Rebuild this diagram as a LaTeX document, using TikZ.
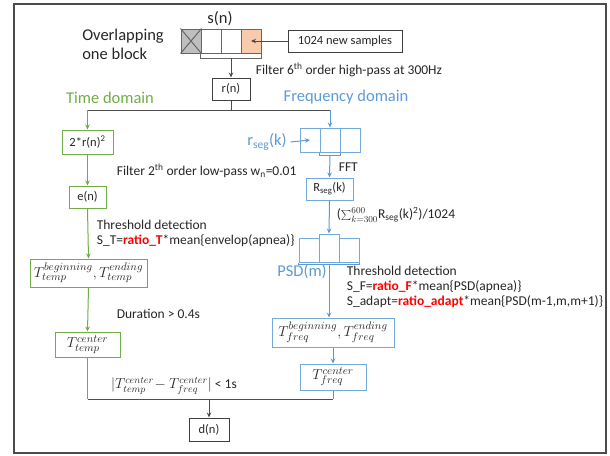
\documentclass[tikz,border=0pt]{standalone}
\usepackage{fontspec}
\setmainfont{Carlito}
\usetikzlibrary{arrows.meta}
\definecolor{tgreen}{RGB}{112,173,71}
\definecolor{fblue}{RGB}{91,155,213}
\definecolor{sorange}{RGB}{248,203,173}
\definecolor{txt}{RGB}{38,38,38}
\newcommand\redbf[1]{\textcolor{red}{\textbf{#1}}}
\begin{document}
\begin{tikzpicture}[x=1pt, y=-1pt, >={Stealth[length=5pt,width=4.5pt]}, line width=1pt,
  bigtxt/.style={font=\fontsize{16.5}{19}\selectfont},
  note/.style={text=txt, font=\fontsize{13.5}{15}\selectfont, anchor=west, align=left},
  box/.style={draw=black!75, text=txt, font=\fontsize{12.5}{14}\selectfont, inner sep=0pt, minimum height=22pt},
  mathbox/.style={font=\fontsize{15}{17}\selectfont},
  tbox/.style={box, draw=tgreen},
  fbox/.style={box, draw=fblue!85},
  cell/.style={draw=gray!80!black, minimum width=20pt, minimum height=24pt, inner sep=0pt},
  fcell/.style={cell, draw=fblue!85},
  gline/.style={draw=black!70},
  tline/.style={draw=tgreen},
  fline/.style={draw=fblue}]
  \useasboundingbox (0,0) rectangle (610,455);
  \draw[gray!60!black, line width=2pt] (14,4) rectangle (606,453);

  % input block
  \node[bigtxt, align=left, text=txt] (ovl) at (123,44) {Overlapping\\one block};
  \node[bigtxt, text=txt] (sn) at (220,19) {s(n)};
  \node[cell, fill=gray!50] (s1) at (191,41) {};
  \draw[gray!80!black] (s1.north west) -- (s1.south east) (s1.north east) -- (s1.south west);
  \node[cell] (s2) at (211,41) {};
  \node[cell] (s3) at (231,41) {};
  \node[cell, fill=sorange] (s4) at (251,41) {};
  \draw[gray!80!black] (s2.south west) -- ++(0,5) -| (s4.south east);
  \coordinate (sbr) at (231,58);
  \node[box, minimum width=114pt] (new) at (345,41) {1024 new samples};
  \draw[gline, ->] (new.west) -- (s4.center);
  \node[note] (hp) at (252,70) {Filter 6\textsuperscript{th} order high-pass at 300Hz};
  \node[box, minimum width=38pt] (rn) at (231,89) {r(n)};
  \draw[gline, ->] (sbr) -- (rn.north);

  \node[bigtxt, text=tgreen] (td) at (110,98) {Time domain};
  \node[bigtxt, text=fblue] (fd) at (346,97) {Frequency domain};

  % time domain
  \node[tbox, minimum width=51pt, minimum height=24pt] (sq) at (87.5,142) {2*r(n)\textsuperscript{2}};
  \node[tbox, minimum width=37pt] (en) at (87.5,197) {e(n)};
  \node[note] (lp) at (113,171) {Filter 2\textsuperscript{th} order low-pass w\textsubscript{n}=0.01};
  \node[note] (tht) at (93,233) {Threshold detection\\S\_T=\redbf{ratio\_T}*mean\{envelop(apnea)\}};
  \node[tbox, mathbox, minimum width=117pt, minimum height=28pt] (tbe) at (88.5,273) {$T_{temp}^{beginning}, T_{temp}^{ending}$};
  \node[note] (dur) at (113,314) {Duration > 0.4s};
  \node[tbox, mathbox, minimum width=65pt, minimum height=25pt] (tc) at (87.5,344.5) {$T_{temp}^{center}$};
  \node[note, anchor=center] (dif) at (174,386) {\fontsize{14.5}{16}\selectfont$|T_{temp}^{center}\!-T_{freq}^{center}|$\fontsize{13.5}{15}\selectfont\ < 1s};
  \node[box, minimum width=40pt, minimum height=23pt] (dn) at (209,429.5) {d(n)};

  % frequency domain
  \node[fcell] (c1) at (310,140) {};
  \node[fcell] (c2) at (330,140) {};
  \node[fcell] (c3) at (350,140) {};
  \draw[fline] (c2.south west) -- ++(0,3) -| (c2.south east);
  \coordinate (cbr) at (330,155);
  \node[bigtxt, text=fblue] (rseg) at (267,142) {r\textsubscript{seg}(k)};
  \draw[fline, ->] (rseg.east) -- (c1.center);
  \node[note] (fft) at (335,167) {FFT};
  \node[fbox, minimum width=47pt] (Rk) at (329.5,189) {R\textsubscript{seg}(k)};
  \draw[fline, ->] (cbr) -- (Rk.north);
  \node[note] (sum) at (333,215) {(\(\sum_{k=300}^{600}\)R\textsubscript{seg}(k)\textsuperscript{2})/1024};
  \node[fcell] (p1) at (309,250) {};
  \node[fcell, minimum height=28pt] (p2) at (329,248) {};
  \node[fcell] (p3) at (349,250) {};
  \draw[fline, ->] (Rk.south) -- (p2.north);
  \draw[fline] (p1.south west) -- ++(0,2) -| (p3.south east);
  \coordinate (pbr) at (329,264);
  \node[bigtxt, text=fblue] (psd) at (302,272) {PSD(m)};
  \node[note] (thf) at (343,287) {Threshold detection\\S\_F=\redbf{ratio\_F}*mean\{PSD(apnea)\}\\S\_adapt=\redbf{ratio\_adapt}*mean\{PSD(m-1,m,m+1)\}};
  \node[fbox, mathbox, minimum width=122pt, minimum height=29pt] (fbe) at (333,332.5) {$T_{freq}^{beginning}, T_{freq}^{ending}$};
  \draw[fline, ->] (pbr) -- (pbr |- fbe.north);
  \node[fbox, mathbox, minimum width=66pt, minimum height=26pt] (fc) at (333,377) {$T_{freq}^{center}$};
  \draw[fline, ->] (fbe.south) -- (fc.north);

  % branches
  \coordinate (split) at (231,110);
  \draw[gline] (rn.south) -- (split);
  \draw[gline] (sq.north |- split) -- (c2.north |- split);
  \draw[tline, ->] (sq.north |- split) -- (sq.north);
  \draw[fline, ->] (c2.north |- split) -- (c2.north);
  \draw[tline, ->] (sq.south) -- (en.north);
  \draw[tline, ->] (en.south) -- (tbe.north);
  \draw[tline, ->] (tbe.south) -- (tc.north);
  \coordinate (join) at (209,399);
  \draw[tline] (tc.south) -- (tc.south |- join);
  \draw[fline] (fc.south) -- (fc.south |- join);
  \draw[gline] (tc.south |- join) -- (fc.south |- join);
  \draw[gline, ->] (join) -- (dn.north);
\end{tikzpicture}
\end{document}
